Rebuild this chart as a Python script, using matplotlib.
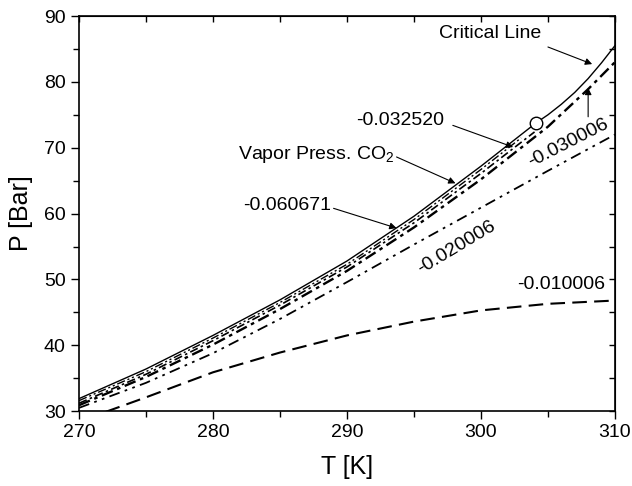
import matplotlib.pyplot as plt
from matplotlib.ticker import MultipleLocator

plt.rcParams['font.family'] = ['Liberation Sans', 'DejaVu Sans']
plt.rcParams['mathtext.fontset'] = 'custom'
plt.rcParams['mathtext.rm'] = 'Liberation Sans'
plt.rcParams['mathtext.it'] = 'Liberation Sans'

# Vapor pressure of CO2 (solid) up to the critical point
T_vap = [270, 275, 280, 285, 290, 295, 300, 304.13]
P_vap = [31.9, 36.4, 41.5, 46.9, 52.8, 59.6, 67.2, 73.8]

# Critical line (solid) beyond the critical point
T_crit = [304.13, 305, 306, 307, 308, 309, 310]
P_crit = [73.8, 75.0, 76.6, 78.4, 80.5, 82.9, 85.5]

# Mixture curves
T_a = [270, 275, 280, 285, 290, 295, 300, 303]
P_060671 = [31.6, 36.0, 41.1, 46.5, 52.3, 59.1, 66.7, 71.5]

T_b = [270, 275, 280, 285, 290, 295, 300, 304]
P_032520 = [31.2, 35.6, 40.7, 46.1, 51.9, 58.6, 66.1, 72.4]

T_c = [270, 275, 280, 285, 290, 295, 300, 305, 308, 310]
P_030006 = [30.9, 35.2, 40.1, 45.5, 51.3, 57.9, 65.2, 73.2, 78.9, 83.0]

T_d = [270, 275, 280, 285, 290, 295, 300, 305, 310]
P_020006 = [30.5, 34.3, 38.8, 44.0, 49.6, 55.3, 60.9, 66.5, 72.0]

T_e = [272, 275, 280, 285, 290, 295, 300, 305, 310]
P_010006 = [29.9, 32.1, 35.9, 38.9, 41.5, 43.6, 45.3, 46.3, 46.8]

fig = plt.figure(figsize=(6.32, 4.86), dpi=100)
ax = fig.add_axes([0.125, 0.154, 0.848, 0.813])

ax.plot(T_vap, P_vap, color='k', lw=1.0)
ax.plot(T_crit, P_crit, color='k', lw=1.0)
ax.plot(T_a, P_060671, color='k', lw=1.0, dashes=(6, 2, 1.5, 2, 1.5, 2))
ax.plot(T_b, P_032520, color='k', lw=1.2, dashes=(5, 2, 1.5, 2))
ax.plot(T_c, P_030006, color='k', lw=1.7, dashes=(5, 2, 1.5, 2))
ax.plot(T_d, P_020006, color='k', lw=1.3, dashes=(6, 3, 1.5, 3, 1.5, 3))
ax.plot(T_e, P_010006, color='k', lw=1.5, dashes=(7, 3.5))
ax.plot([304.13], [73.8], 'o', mfc='white', mec='k', ms=9, mew=1.0, zorder=5)

ax.set_xlim(270, 310)
ax.set_ylim(30, 90)
ax.xaxis.set_major_locator(MultipleLocator(10))
ax.xaxis.set_minor_locator(MultipleLocator(5))
ax.yaxis.set_major_locator(MultipleLocator(10))
ax.yaxis.set_minor_locator(MultipleLocator(5))
ax.tick_params(which='major', direction='out', length=6, width=1, labelsize=14)
ax.tick_params(which='minor', direction='out', length=4, width=1)
for s in ax.spines.values():
    s.set_linewidth(1.2)

# top and right ticks pointing inward
top = ax.secondary_xaxis('top')
top.xaxis.set_major_locator(MultipleLocator(10))
top.xaxis.set_minor_locator(MultipleLocator(5))
top.tick_params(which='both', direction='in', length=4, width=1, labeltop=False)
right = ax.secondary_yaxis('right')
right.yaxis.set_major_locator(MultipleLocator(10))
right.yaxis.set_minor_locator(MultipleLocator(5))
right.tick_params(which='both', direction='in', length=4, width=1, labelright=False)

ax.set_xlabel('T [K]', fontsize=18, labelpad=10)
ax.set_ylabel('P [Bar]', fontsize=18, labelpad=8)

arrow = dict(arrowstyle='-|>', color='k', lw=0.8, mutation_scale=10, shrinkA=0, shrinkB=0)
fs = 14
ax.text(300.7, 87.4, 'Critical Line', fontsize=fs, ha='center', va='center')
ax.annotate('', xy=(308.3, 82.7), xytext=(305.0, 85.3), arrowprops=arrow)
ax.text(294.0, 74.2, '-0.032520', fontsize=fs, ha='center', va='center')
ax.annotate('', xy=(302.4, 70.1), xytext=(297.9, 73.4), arrowprops=arrow)
ax.text(281.9, 68.9, 'Vapor Press. CO$_2$', fontsize=fs, ha='left', va='center')
ax.annotate('', xy=(298.1, 64.6), xytext=(293.7, 68.6), arrowprops=arrow)
ax.text(285.5, 61.3, '-0.060671', fontsize=fs, ha='center', va='center')
ax.annotate('', xy=(293.7, 57.8), xytext=(289.0, 60.8), arrowprops=arrow)
ax.text(306.5, 70.7, '-0.030006', fontsize=fs, ha='center', va='center', rotation=27)
ax.annotate('', xy=(308.0, 79.1), xytext=(308.0, 74.7), arrowprops=arrow)
ax.text(298.2, 54.9, '-0.020006', fontsize=fs, ha='center', va='center', rotation=31)
ax.text(306.0, 49.3, '-0.010006', fontsize=fs, ha='center', va='center')

fig.savefig('out.png', dpi=100)
